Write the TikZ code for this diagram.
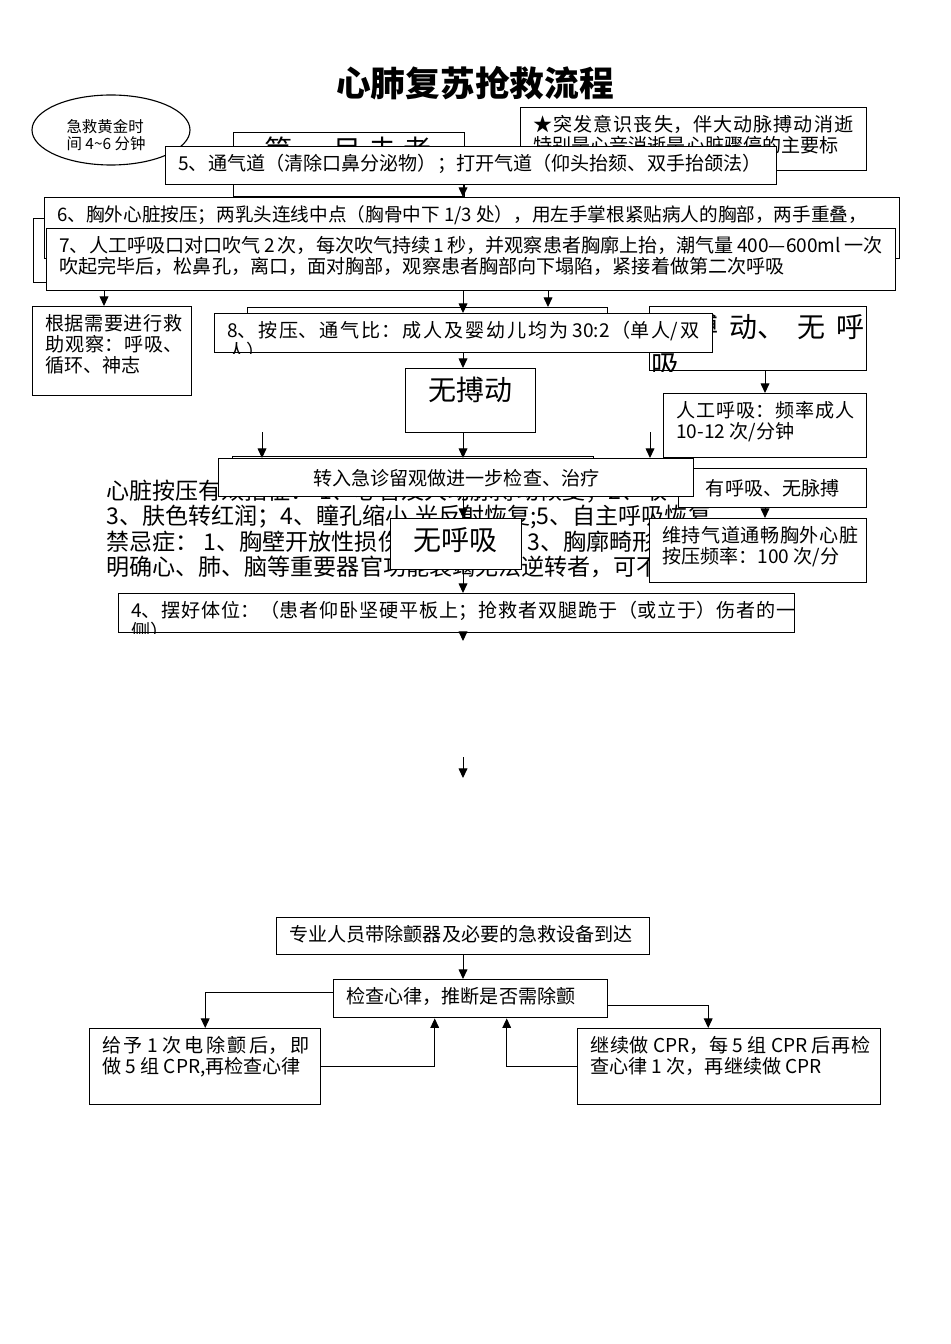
\documentclass[tikz,border=0pt]{standalone}
\usepackage{fontspec}
\setmainfont{Noto Sans CJK SC}
\usepackage{tikz}
\usetikzlibrary{arrows.meta}
\usetikzlibrary{shapes}
\usetikzlibrary{positioning}
\XeTeXlinebreaklocale "zh"
\XeTeXlinebreakskip=0pt plus 10pt
\newlength{\px}
\setlength{\px}{0.0221cm}
\newcommand{\BodySize}{\fontsize{12}{13.2}\selectfont}
\newcommand{\SmallSize}{\fontsize{9.7}{10.8}\selectfont}
\newcommand{\ParaSize}{\fontsize{14.5}{15.9}\selectfont}
\newcommand{\BigSize}{\fontsize{17.6}{23.9}\selectfont}
\newcommand{\TitleSize}{\fontsize{21.8}{24}\selectfont}
\tikzset{
  MyBox/.style={
    rectangle, anchor=north west, inner sep=0pt,
    draw=black, line width=0.9pt, fill=white, font=\BodySize,
  },
  MyText/.style={
    anchor=north west, inner sep=0pt, align=justify, font=\BodySize,
  },
  MyLine/.style={anchor=north west, inner sep=0pt, font=\BodySize},
  MyPara/.style={anchor=west, inner sep=0pt, font=\ParaSize},
  MyOval/.style={ellipse, draw=black, line width=0.7pt, fill=white, inner sep=0pt},
  MyArrow/.style={-{Triangle[length=6pt,width=5.5pt]}, line width=0.6pt, draw=black},
}

\begin{document}
\begin{tikzpicture}[x=0.0221cm, y=-0.0221cm]
\useasboundingbox (0,0) rectangle (950,1344);
\coordinate (COLL) at (104,0);
\coordinate (COLM) at (463,0);
\coordinate (COLR) at (548,0);
\coordinate (COLRR) at (765,0);
\coordinate (FREE1) at (262,432);
\coordinate (FREE2) at (650,432);
\coordinate (FREE3) at (463,641);
\coordinate (FREE4) at (463,757);
\coordinate (FREE5) at (463,778);
\node[font=\TitleSize\bfseries, inner sep=0pt] (TITLE) at (475,83) {心肺复苏抢救流程};
\node[MyOval, minimum width=158\px, minimum height=70\px] (GOLD) at (111,130) {};
\node[font=\SmallSize, align=left, inner sep=0pt] (GOLDT) at (106,135) {急救黄金时\\间 4\textasciitilde 6 分钟};
\node[MyBox, minimum width=231\px, minimum height=64\px] (FIRST) at (233,132) {};
\node[font=\BigSize, inner sep=0pt] (FIRSTT) at (348,150) {第\hspace{4.4pt}一\hspace{4.4pt}目\hspace{4.4pt}击\hspace{4.4pt}者};
\node[MyBox, minimum width=346\px, minimum height=63\px] (STAR) at (520,107) {};
\node[MyText, text width=320\px] (START) at ([shift={(13,8)}]STAR.north west) {\parfillskip=0pt\relax ★突发意识丧失，伴大动脉搏动消逝\linebreak 特别是心音消逝是心脏骤停的主要标};
\node[MyBox, minimum width=611\px, minimum height=38\px] (AIR) at (165,146) {};
\node[MyLine] (AIRT) at ([shift={(13,8)}]AIR.north west) {5、通气道（清除口鼻分泌物）；打开气道（仰头抬颏、双手抬颌法）};
\node[MyBox, minimum width=220\px, minimum height=64\px] (HIDE) at (33,218) {};
\node[MyBox, minimum width=855\px, minimum height=61\px] (PRESS) at (44,197) {};
\draw[MyArrow] (AIR.south -| COLM) -- (PRESS.north -| COLM);
\node[MyText, text width=829\px, font=\fontsize{11.7}{13}\selectfont] (PRESST) at ([shift={(13,8)}]PRESS.north west) {\parfillskip=0pt\relax 6、胸外心脏按压；两乳头连线中点（胸骨中下 1/3 处），用左手掌根紧贴病人的胸部，两手重叠，};
\node[MyBox, minimum width=849\px, minimum height=62\px] (BREATH) at (46,228) {};
\node[MyText, text width=823\px] (BREATHT) at ([shift={(13,8)}]BREATH.north west) {7、人工呼吸口对口吹气 2 次，每次吹气持续 1 秒，并观察患者胸廓上抬，潮气量 400—600ml 一次\linebreak 吹起完毕后，松鼻孔，离口，面对胸部，观察患者胸部向下塌陷，紧接着做第二次呼吸};
\node[MyBox, minimum width=159\px, minimum height=89\px] (OBS) at (32,306) {};
\node[MyText, text width=137\px] (OBST) at ([shift={(13,8)}]OBS.north west) {根据需要进行救\linebreak 助观察：呼吸、\linebreak 循环、神志};
\node[MyBox, minimum width=360\px, minimum height=38\px] (BACK) at (247,307) {};
\node[MyBox, minimum width=217\px, minimum height=64\px] (NOBOTH) at (649,306) {};
\begin{scope}
\clip (NOBOTH.north west) rectangle (NOBOTH.south east);
\node[MyText, text width=213\px, font=\BigSize] (NOBOTHT) at ([shift={(2,8)}]NOBOTH.north west) {无搏动、无呼\linebreak 吸};
\end{scope}
\node[MyBox, minimum width=498\px, minimum height=39\px] (RATIO) at (214,313) {};
\begin{scope}
\clip (RATIO.north west) rectangle (RATIO.south east);
\node[MyText, text width=472\px] (RATIOT) at ([shift={(13,8)}]RATIO.north west) {8、按压、通气比：成人及婴幼儿均为 30:2（单人/双\linebreak 人）};
\end{scope}
\draw[MyArrow] (BREATH.south -| COLL) -- (OBS.north -| COLL);
\draw[MyArrow] (BREATH.south -| COLM) -- (RATIO.north -| COLM);
\draw[MyArrow] (BREATH.south -| COLR) -- (BACK.north -| COLR);
\node[MyBox, minimum width=130\px, minimum height=64\px] (NOPULSE) at (405,368) {};
\node[font=\BigSize, inner sep=0pt] (NOPULSET) at (470,390) {无搏动};
\node[MyBox, minimum width=203\px, minimum height=64\px] (VENT) at (663,393) {};
\node[MyText, text width=178\px] (VENTT) at ([shift={(13,8)}]VENT.north west) {人工呼吸：频率成人\linebreak 10-12 次/分钟};
\draw[MyArrow] (RATIO.south -| COLM) -- (NOPULSE.north -| COLM);
\draw[MyArrow] (NOBOTH.south -| COLRR) -- (VENT.north -| COLRR);
\node[MyPara] (P1) at (106,492) {心脏按压有效指征： 1、心音及大动脉搏动恢复；2、收};
\node[MyPara] (P2) at (106,517) {3、肤色转红润；4、瞳孔缩小,光反射恢复;5、自主呼吸恢复};
\node[MyPara] (P3) at (106,542) {禁忌症： 1、胸壁开放性损伤};
\node[MyPara] (P3B) at (527,542) {3、胸廓畸形};
\node[MyPara] (P4) at (106,567) {明确心、肺、脑等重要器官功能衰竭无法逆转者，可不必};
\node[MyBox, minimum width=361\px, minimum height=30\px] (BACKER) at (232,456) {};
\node[MyBox, minimum width=188\px, minimum height=39\px] (HASBR) at (678,468) {有呼吸、无脉搏};
\node[MyBox, minimum width=475\px, minimum height=38\px] (ER) at (218,458) {转入急诊留观做进一步检查、治疗};
\draw[MyArrow] (FREE1) -- (FREE1 |- ER.north);
\draw[MyArrow] (FREE2) -- (FREE2 |- ER.north);
\draw[MyArrow] (NOPULSE.south -| COLM) -- (ER.north -| COLM);
\node[MyBox, minimum width=217\px, minimum height=64\px] (KEEP) at (649,518) {};
\node[MyText, text width=196\px] (KEEPT) at ([shift={(13,8)}]KEEP.north west) {维持气道通畅胸外心脏\linebreak 按压频率：100 次/分};
\draw[MyArrow] (HASBR.south -| COLRR) -- (KEEP.north -| COLRR);
\node[MyBox, minimum width=131\px, minimum height=51\px] (NOBR) at (390,518) {};
\node[font=\BigSize, inner sep=0pt] (NOBRT) at (455,540) {无呼吸};
\draw[MyArrow] (ER.south -| COLM) -- (NOBR.north -| COLM);
\node[MyBox, minimum width=676\px, minimum height=39\px] (POS) at (118,593) {};
\begin{scope}
\clip (POS.north west) rectangle (POS.south east);
\node[MyText, text width=664\px] (POST) at ([shift={(13,8)}]POS.north west) {4、摆好体位：（患者仰卧坚硬平板上；抢救者双腿跪于（或立于）伤者的一\linebreak 侧）};
\end{scope}
\draw[MyArrow] (NOBR.south -| COLM) -- (POS.north -| COLM);
\draw[MyArrow] (POS.south -| COLM) -- (FREE3);
\draw[MyArrow] (FREE4) -- (FREE5);
\node[MyBox, minimum width=373\px, minimum height=37\px] (TEAM) at (276,917) {};
\node[MyLine] (TEAMT) at ([shift={(13,8)}]TEAM.north west) {专业人员带除颤器及必要的急救设备到达};
\node[MyBox, minimum width=274\px, minimum height=38\px] (RHYTHM) at (333,979) {};
\node[MyLine] (RHYTHMT) at ([shift={(13,8)}]RHYTHM.north west) {检查心律，推断是否需除颤};
\node[MyBox, minimum width=231\px, minimum height=76\px] (SHOCK) at (89,1028) {};
\node[MyText, text width=207\px] (SHOCKT) at ([shift={(13,8)}]SHOCK.north west) {给予 1 次电除颤后，即\linebreak 做 5 组 CPR,再检查心律};
\node[MyBox, minimum width=303\px, minimum height=76\px] (CONT) at (577,1028) {};
\node[MyText, text width=280\px] (CONTT) at ([shift={(13,8)}]CONT.north west) {继续做 CPR，每 5 组 CPR 后再检\linebreak 查心律 1 次，再继续做 CPR};
\draw[MyArrow] (TEAM.south -| COLM) -- (RHYTHM.north -| COLM);
\draw[MyArrow] ([yshift=6\px]RHYTHM.west) -| (SHOCK.north);
\draw[MyArrow] ([yshift=-7\px]RHYTHM.east) -| ([xshift=-21\px]CONT.north);
\draw[MyArrow] (SHOCK.east) -| ([xshift=-36\px]RHYTHM.south);
\draw[MyArrow] (CONT.west) -| ([xshift=36\px]RHYTHM.south);
\end{tikzpicture}
\end{document}
